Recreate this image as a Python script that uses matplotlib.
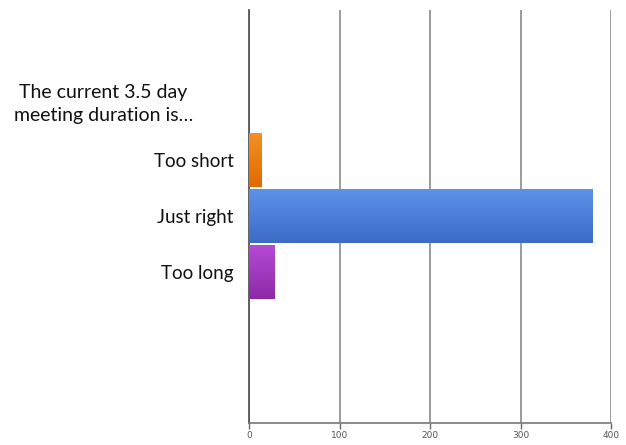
import matplotlib
matplotlib.use('Agg')
import matplotlib.pyplot as plt
import numpy as np
from matplotlib.colors import LinearSegmentedColormap

# === Survey data ===
categories = ['Too short', 'Just right', 'Too long']
counts = [14, 379, 28]
top_colors = ['#f39022', '#5d92e8', '#b44ad4']
bottom_colors = ['#e06a00', '#3c6cc6', '#8e2aa8']
x_ticks = [0, 100, 200, 300, 400]
question = 'The current 3.5 day\nmeeting duration is\u2026'

plt.rcParams['font.family'] = ['Lato', 'DejaVu Sans']

fig = plt.figure(figsize=(6.26, 4.45), dpi=100)
ax = fig.add_axes([0.3978, 0.0494, 0.5783, 0.9281])

ypos = np.arange(len(categories))
bars = ax.barh(ypos, counts, height=0.96, color='none', edgecolor='none', zorder=3)

# vertical gradient fill for each bar
grad = np.linspace(0, 1, 64).reshape(-1, 1)
for bar, c_top, c_bot in zip(bars, top_colors, bottom_colors):
    x0, y0 = bar.get_x(), bar.get_y()
    w, h = bar.get_width(), bar.get_height()
    cmap = LinearSegmentedColormap.from_list('g', [c_top, c_bot])
    im = ax.imshow(grad, cmap=cmap, aspect='auto', origin='lower',
                   extent=[x0, x0 + w, y0, y0 + h], zorder=3)
    im.set_clip_path(bar)

ax.set_xlim(0, 400)
ax.set_ylim(4.70, -2.68)

# vertical gridlines
ax.set_xticks(x_ticks)
ax.set_xticklabels([str(t) for t in x_ticks], fontsize=6.5, color='#555555',
                   family='DejaVu Sans')
ax.grid(axis='x', color='#8a8a8a', linewidth=1.2, zorder=0)
ax.tick_params(axis='x', length=4, color='#666666', width=1.0, pad=2)

# category labels
ax.set_yticks(ypos)
ax.set_yticklabels(categories, fontsize=13.5, color='#111111')
ax.tick_params(axis='y', length=0, pad=11)
ax.set_yticks([1], minor=True)
ax.tick_params(axis='y', which='minor', length=5, color='#555555', width=1.0)

for side in ['top', 'right']:
    ax.spines[side].set_visible(False)
ax.spines['left'].set_color('#555555')
ax.spines['left'].set_linewidth(1.3)
ax.spines['bottom'].set_color('#777777')
ax.spines['bottom'].set_linewidth(1.2)

fig.text(0.165, 0.766, question, ha='center', va='center', fontsize=14,
         color='#111111', linespacing=1.4)

fig.savefig('out.png', dpi=100)
